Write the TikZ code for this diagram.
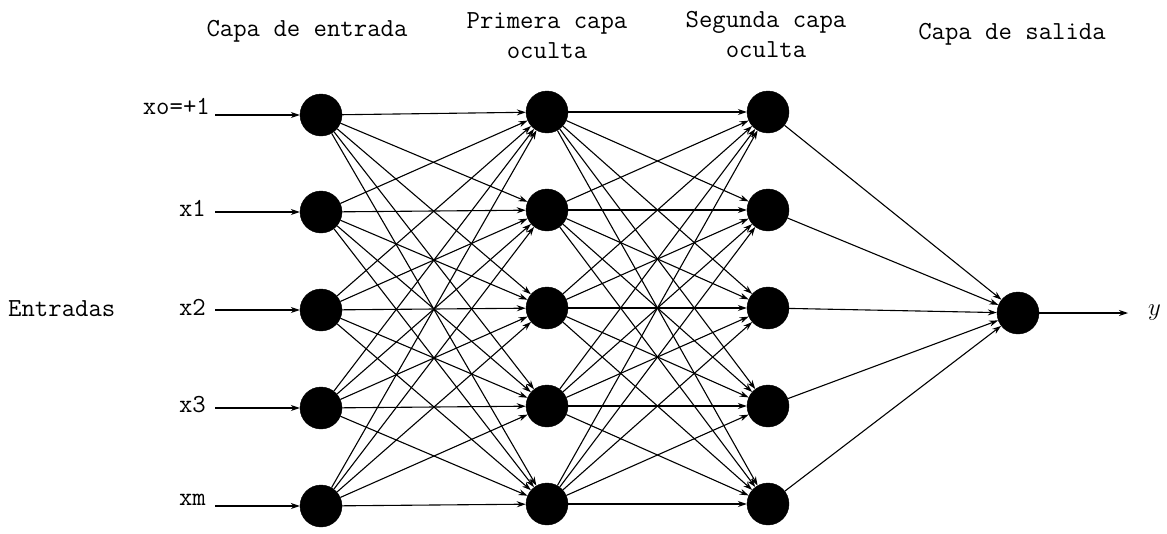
\documentclass[tikz,border=0pt]{standalone}
\usepackage{fontspec}
\usetikzlibrary{arrows.meta}
\begin{document}
\begin{tikzpicture}[x=1pt,y=-1pt,
  neuron/.style={circle,fill=black,draw=black,minimum size=42pt,inner sep=0pt},
  lbl/.style={font=\ttfamily\fontsize{26}{30}\selectfont,inner sep=0pt},
  conn/.style={line width=1.1pt,-{Stealth[length=9pt,width=6pt]}}]
\useasboundingbox (0,0) rectangle (1167,533);
% layers
\foreach \i/\y in {1/115,2/212,3/310,4/408,5/506}{
  \node[neuron] (i\i) at (321,\y) {};
}
\foreach \i/\y in {1/112,2/210,3/308,4/406,5/504}{
  \node[neuron] (h\i) at (547,\y) {};
  \node[neuron] (g\i) at (768,\y) {};
}
\node[neuron] (o) at (1018,313) {};
% connections
\foreach \a in {1,...,5}{
  \foreach \b in {1,...,5}{
    \draw[conn] (i\a) -- (h\b);
    \draw[conn] (h\a) -- (g\b);
  }
  \draw[conn] (g\a) -- (o);
}
% inputs
\coordinate (s1) at (215,115);
\coordinate (s2) at (215,212);
\coordinate (s3) at (215,310);
\coordinate (s4) at (215,408);
\coordinate (s5) at (215,506);
\foreach \i in {1,...,5}{ \draw[conn] (s\i) -- (i\i); }
\node[lbl,anchor=east] (l1) at (210,106) {xo=+1};
\node[lbl,anchor=east] (l2) at (206,208) {x1};
\node[lbl,anchor=east] (l3) at (206,307) {x2};
\node[lbl,anchor=east] (l4) at (206,405) {x3};
\node[lbl,anchor=east] (l5) at (206,500) {xm};
\node[lbl,anchor=west] (ent) at (8,309) {Entradas};
% output
\coordinate (yend) at (1128,313);
\draw[conn] (o) -- (yend);
\node[lbl,anchor=west] (ylab) at (1148,313) {$y$};
% titles
\node[lbl] (t1) at (307,31) {Capa de entrada};
\node[lbl,align=center] (t2) at (547,36) {Primera capa\\oculta};
\node[lbl,align=center] (t3) at (766,34) {Segunda capa\\oculta};
\node[lbl] (t4) at (1012,34) {Capa de salida};
\end{tikzpicture}
\end{document}
